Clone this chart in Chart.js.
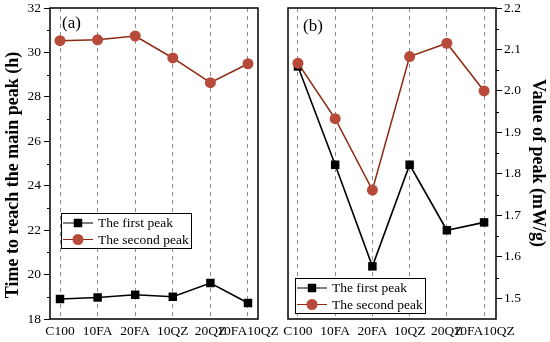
<!DOCTYPE html>
<html>
<head>
<meta charset="utf-8">
<script src="https://cdn.jsdelivr.net/npm/chart.js@4.4.1/dist/chart.umd.min.js"></script>
<style>
  body { margin: 0; background: #fff; }
  #wrap { position: relative; width: 550px; height: 342px; overflow: hidden; }
  canvas { position: absolute; top: 0; }
  #left { left: 0; }
  #right { left: 270px; }
</style>
</head>
<body>
<div id="wrap">
  <canvas id="left" width="290" height="342"></canvas>
  <canvas id="right" width="280" height="342"></canvas>
</div>
<script>
// values
const categories = ['C100', '10FA', '20FA', '10QZ', '20QZ', '10FA10QZ'];
const seriesNames = ['The first peak', 'The second peak'];

// (a) time to reach the main peak, h
const timeFirst = [18.90, 18.97, 19.09, 19.00, 19.62, 18.72];
const timeSecond = [30.53, 30.57, 30.74, 29.75, 28.64, 29.49];
const timeTicks = [18, 20, 22, 24, 26, 28, 30, 32];

// (b) value of peak, mW/g
const valueFirst = [2.059, 1.822, 1.577, 1.822, 1.664, 1.683];
const valueSecond = [2.067, 1.933, 1.761, 2.083, 2.115, 2.000];
const valueTicks = [1.5, 1.6, 1.7, 1.8, 1.9, 2.0, 2.1, 2.2];

Chart.defaults.font.family = '"Liberation Serif", "Times New Roman", serif';
Chart.defaults.font.size = 13.5;
Chart.defaults.color = '#000';

const SERIF = '"Liberation Serif", "Times New Roman", serif';

/**
 * Frame, minor ticks, panel label, rotated axis title and the boxed legend
 */
const decor = {
  id: 'decor',
  afterDraw(chart, args, o) {
    const { ctx, chartArea: a } = chart;
    const y = chart.scales.y;
    ctx.save();

    // minor ticks half way between the major ones
    const majors = y.ticks.map(t => t.value);
    ctx.strokeStyle = '#000';
    ctx.lineWidth = 1;
    ctx.beginPath();
    for (let i = 0; i < majors.length - 1; i++) {
      const py = Math.round(y.getPixelForValue((majors[i] + majors[i + 1]) / 2)) + 0.5;
      if (o.side === 'left') { ctx.moveTo(a.left - 3, py); ctx.lineTo(a.left, py); }
      else { ctx.moveTo(a.right, py); ctx.lineTo(a.right + 3, py); }
    }
    ctx.stroke();

    // box round the plot
    ctx.lineWidth = 1.5;
    ctx.strokeRect(a.left, a.top, a.right - a.left, a.bottom - a.top);

    // panel label
    ctx.fillStyle = '#000';
    ctx.font = '17px ' + SERIF;
    ctx.textAlign = 'left';
    ctx.textBaseline = 'top';
    ctx.fillText(o.panel, a.left + o.panelDx, a.top + o.panelDy);

    // legend
    const lx = a.left + o.legendDx, ly = a.top + o.legendDy;
    ctx.fillStyle = '#fff';
    ctx.fillRect(lx, ly, 130, 35);
    ctx.lineWidth = 1;
    ctx.strokeStyle = '#000';
    ctx.strokeRect(lx + 0.5, ly + 0.5, 130, 35);
    const rows = [chart.data.datasets[0], chart.data.datasets[1]];
    rows.forEach((ds, i) => {
      const ry = ly + 10 + i * 16.5;
      ctx.strokeStyle = ds.borderColor;
      ctx.lineWidth = 1;
      ctx.beginPath();
      ctx.moveTo(lx + 2, ry);
      ctx.lineTo(lx + 32, ry);
      ctx.stroke();
      ctx.fillStyle = ds.pointBackgroundColor;
      ctx.strokeStyle = ds.pointBorderColor;
      Chart.helpers.drawPoint(ctx, { pointStyle: ds.pointStyle, radius: ds.pointRadius, rotation: 0, borderWidth: ds.pointBorderWidth }, lx + 17, ry);
      ctx.fillStyle = '#000';
      ctx.font = '13.5px ' + SERIF;
      ctx.textBaseline = 'middle';
      ctx.fillText(ds.label, lx + 37, ry + 0.5);
    });

    // axis title
    ctx.font = 'bold 18px ' + SERIF;
    ctx.fillStyle = '#000';
    ctx.textAlign = 'center';
    ctx.textBaseline = 'middle';
    ctx.translate(o.titleX, o.titleY);
    ctx.rotate(o.side === 'left' ? -Math.PI / 2 : Math.PI / 2);
    ctx.fillText(o.title, 0, 0);
    ctx.restore();
  }
};

function buildChart(canvasId, first, second, yTicks, opts) {
  const ctx = document.getElementById(canvasId).getContext('2d');
  return new Chart(ctx, {
    type: 'line',
    data: {
      datasets: [{
        label: seriesNames[0],
        data: first.map((v, i) => ({ x: i, y: v })),
        borderColor: '#000',
        borderWidth: 1.6,
        pointStyle: 'rect',
        pointRadius: 6,
        pointBackgroundColor: '#000',
        pointBorderColor: '#000',
        pointBorderWidth: 0,
        order: 1
      }, {
        label: seriesNames[1],
        data: second.map((v, i) => ({ x: i, y: v })),
        borderColor: '#8b2a10',
        borderWidth: 1.5,
        pointStyle: 'circle',
        pointRadius: 5.5,
        pointBackgroundColor: '#b84a3a',
        pointBorderColor: '#b84a3a',
        pointBorderWidth: 0,
        order: 0
      }]
    },
    options: {
      responsive: false,
      animation: false,
      layout: { padding: opts.padding },
      plugins: { legend: { display: false }, tooltip: { enabled: false }, decor: opts.decor },
      scales: {
        x: {
          type: 'linear',
          min: opts.xMin,
          max: opts.xMax,
          afterBuildTicks: s => { s.ticks = categories.map((_, i) => ({ value: i })); },
          afterFit: s => { s.height = 23; s.paddingLeft = 0; s.paddingRight = 0; },
          grid: { drawTicks: false, color: '#8c8c8c', lineWidth: 1 },
          border: { display: false, dash: [4, 4] },
          ticks: { padding: 4, autoSkip: false, maxRotation: 0, minRotation: 0, callback: v => categories[v] }
        },
        y: {
          position: opts.decor.side,
          min: opts.yMin,
          max: opts.yMax,
          afterBuildTicks: s => { s.ticks = yTicks.map(v => ({ value: v })); },
          afterFit: s => { s.width = opts.yWidth; s.paddingTop = 0; s.paddingBottom = 0; },
          grid: { drawOnChartArea: false, drawTicks: true, tickLength: 6, color: '#000', lineWidth: 1 },
          border: { display: false },
          ticks: { padding: opts.tickPad, callback: opts.fmt }
        }
      }
    },
    plugins: [decor]
  });
}

buildChart('left', timeFirst, timeSecond, timeTicks, {
  padding: { left: 0, top: 8, right: 32, bottom: 0 },
  xMin: -0.266, xMax: 5.266,
  yMin: 18, yMax: 32, yWidth: 50, tickPad: 3,
  fmt: v => String(v),
  decor: { side: 'left', panel: '(a)', panelDx: 12, panelDy: 7, legendDx: 11, legendDy: 205,
           title: 'Time to reach the main peak (h)', titleX: 13, titleY: 175 }
});

buildChart('right', valueFirst, valueSecond, valueTicks, {
  padding: { left: 18, top: 8, right: 0, bottom: 0 },
  xMin: -0.267, xMax: 5.32,
  yMin: 1.45, yMax: 2.2, yWidth: 54, tickPad: 2,
  fmt: v => v.toFixed(1),
  decor: { side: 'right', panel: '(b)', panelDx: 15, panelDy: 10, legendDx: 7, legendDy: 270,
           title: 'Value of peak (mW/g)', titleX: 268, titleY: 163 }
});
</script>
</body>
</html>
